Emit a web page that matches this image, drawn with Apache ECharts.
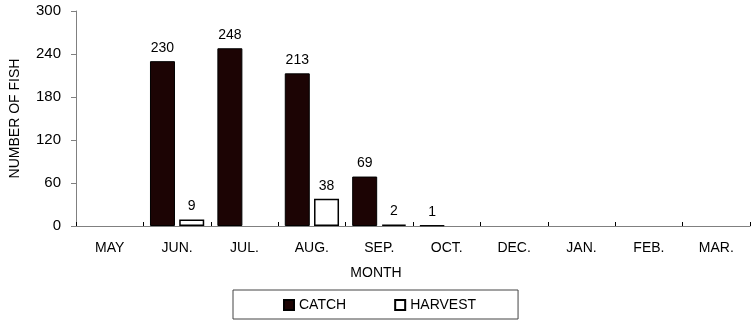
<!DOCTYPE html>
<html>
<head>
<meta charset="utf-8">
<script src="https://cdn.jsdelivr.net/npm/echarts@6/dist/echarts.min.js"></script>
<style>html,body{margin:0;padding:0;background:#fff;}#c{width:752px;height:322px;}</style>
</head>
<body>
<div id="c"></div>
<script>
var months = ['MAY', 'JUN.', 'JUL.', 'AUG.', 'SEP.', 'OCT.', 'DEC.', 'JAN.', 'FEB.', 'MAR.'];
var catchValues = [0, 230, 248, 213, 69, 1, 0, 0, 0, 0];
var harvestValues = [0, 9, 0, 38, 2, 0, 0, 0, 0, 0];
var yTicks = [0, 60, 120, 180, 240, 300];

var FONT = '"Liberation Sans", Arial, sans-serif';
function toData(arr) { return arr.map(function (v) { return v === 0 ? '-' : v; }); }
var labelCfg = {
  show: true, position: 'top', distance: 6, color: '#000',
  fontFamily: FONT, fontSize: 14,
  formatter: function (p) { return p.value ? String(p.value) : ''; }
};

var chart = echarts.init(document.getElementById('c'), null, { renderer: 'canvas' });
chart.setOption({
  animation: false,
  textStyle: { fontFamily: FONT },
  title: {
    text: 'MONTH', left: 'center', top: 266, padding: 0,
    textStyle: { fontFamily: FONT, fontSize: 14, fontWeight: 'normal', color: '#000' }
  },
  grid: { left: 76, right: 2, top: 11, bottom: 96, containLabel: false },
  legend: {
    left: 233, top: 290,
    padding: [8, 42, 7, 50],
    borderColor: '#444', borderWidth: 1,
    itemWidth: 10, itemHeight: 10, itemGap: 48,
    textStyle: { fontFamily: FONT, fontSize: 14, color: '#000' },
    data: [
      { name: 'CATCH', icon: 'rect' },
      { name: 'HARVEST', icon: 'rect' }
    ]
  },
  xAxis: {
    type: 'category', data: months,
    axisLine: { lineStyle: { color: '#808080', width: 1 } },
    axisTick: { show: true, inside: true, length: 4, lineStyle: { color: '#000' } },
    axisLabel: { color: '#000', fontFamily: FONT, fontSize: 14, margin: 15 }
  },
  yAxis: {
    type: 'value', min: yTicks[0], max: yTicks[yTicks.length - 1], interval: yTicks[1] - yTicks[0],
    name: 'NUMBER OF FISH', nameLocation: 'middle', nameGap: 54,
    nameTextStyle: { fontFamily: FONT, fontSize: 14, color: '#000' },
    axisLine: { show: true, lineStyle: { color: '#808080', width: 1 } },
    axisTick: { show: true, length: 5, lineStyle: { color: '#808080' } },
    axisLabel: { color: '#000', fontFamily: FONT, fontSize: 15, margin: 15 },
    splitLine: { show: false }
  },
  series: [
    {
      name: 'CATCH', type: 'bar', data: toData(catchValues),
      barWidth: 25, barGap: '17%',
      itemStyle: { color: '#1c0404', borderColor: '#000', borderWidth: 1 },
      label: labelCfg
    },
    {
      name: 'HARVEST', type: 'bar', data: toData(harvestValues),
      barWidth: 25,
      itemStyle: { color: '#fff', borderColor: '#000', borderWidth: 1.5 },
      label: labelCfg
    }
  ]
});
</script>
</body>
</html>
